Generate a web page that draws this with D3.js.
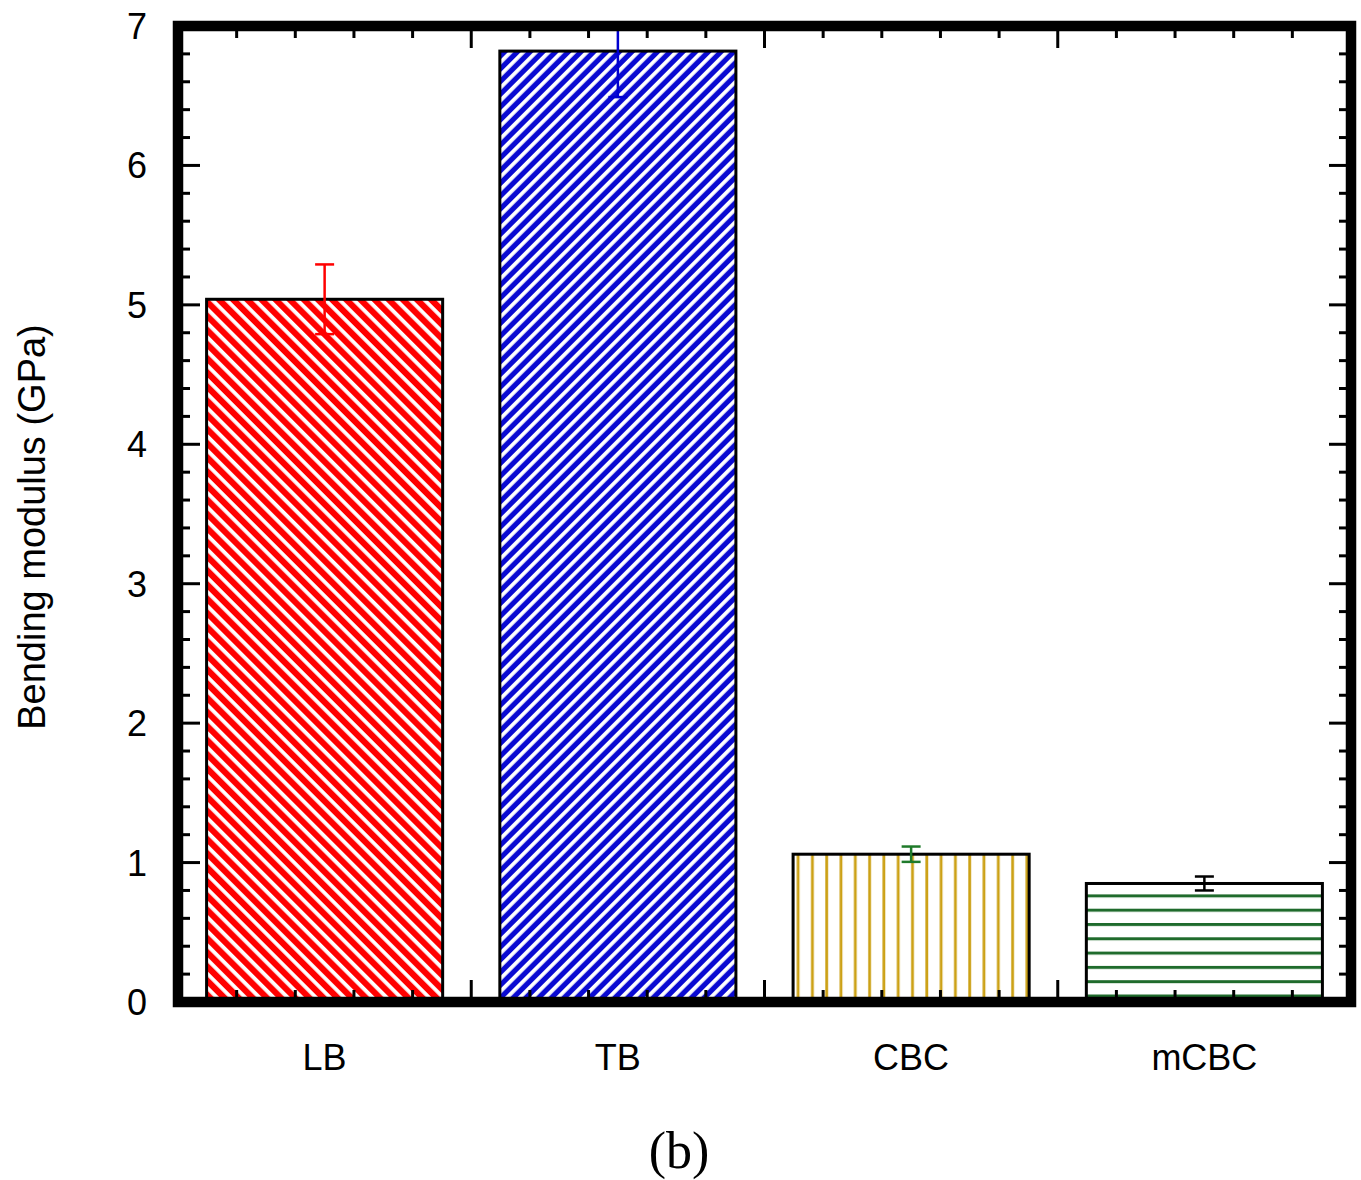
<!DOCTYPE html>
<html>
<head>
    <meta charset="utf-8" />
    <title>Bending modulus</title>
    <style>
    body { margin: 0; background: #fff; }
    svg { display: block; }
    text { font-family: "Liberation Sans", Arial, sans-serif; fill: #000; }
    </style>
</head>
<body>
    <svg id="chart" width="1361" height="1180"></svg>

    <script src="https://cdn.jsdelivr.net/npm/d3@7"></script>
    <script>
        // data
        var categories = ["LB", "TB", "CBC", "mCBC"];
        var values = [5.04, 6.82, 1.06, 0.85];
        var errors = [0.25, 0.33, 0.055, 0.05];
        var errColors = ["#ff0000", "#0000d0", "#1f7a2a", "#000000"];
        var yTicks = [0, 1, 2, 3, 4, 5, 6, 7];

        var svg = d3.select("#chart");
        // plot frame (centre of the thick border)
        var plotLeft = 178, plotRight = 1351, plotTop = 26, plotBottom = 1002;

        var x = d3.scaleBand()
            .domain(categories)
            .range([plotLeft, plotRight])
            .paddingInner(0.195)
            .paddingOuter(0.0975);

        var y = d3.scaleLinear().domain([0, 7]).range([plotBottom, plotTop]);

        // fill patterns
        var defs = svg.append("defs");

        // red with white "\" stripes
        var pLB = defs.append("pattern")
            .attr("id", "pLB")
            .attr("patternUnits", "userSpaceOnUse")
            .attr("width", 10).attr("height", 10)
            .attr("patternTransform", "rotate(45)");
        pLB.append("rect").attr("width", 10).attr("height", 10).attr("fill", "#ff0000");
        pLB.append("rect").attr("y", 0).attr("width", 10).attr("height", 3.8).attr("fill", "#fff");

        // blue with white "/" stripes
        var pTB = defs.append("pattern")
            .attr("id", "pTB")
            .attr("patternUnits", "userSpaceOnUse")
            .attr("width", 9).attr("height", 9)
            .attr("patternTransform", "rotate(-45)");
        pTB.append("rect").attr("width", 9).attr("height", 9).attr("fill", "#0a0ad2");
        pTB.append("rect").attr("y", 0).attr("width", 9).attr("height", 3.8).attr("fill", "#fff");

        var pCBC = defs.append("pattern")
            .attr("id", "pCBC")
            .attr("patternUnits", "userSpaceOnUse")
            .attr("x", 805).attr("y", 0)
            .attr("width", 14.3).attr("height", 20);
        pCBC.append("rect").attr("width", 14.3).attr("height", 20).attr("fill", "#fff");
        pCBC.append("rect").attr("x", 6).attr("width", 2.8).attr("height", 20).attr("fill", "#cca116");

        var pM = defs.append("pattern")
            .attr("id", "pM")
            .attr("patternUnits", "userSpaceOnUse")
            .attr("x", 0).attr("y", plotBottom - 6 - 1.5)
            .attr("width", 20).attr("height", 14.3);
        pM.append("rect").attr("width", 20).attr("height", 14.3).attr("fill", "#fff");
        pM.append("rect").attr("y", 0).attr("width", 20).attr("height", 3).attr("fill", "#1f6b2c");

        var fills = ["url(#pLB)", "url(#pTB)", "url(#pCBC)", "url(#pM)"];

        defs.append("clipPath").attr("id", "plotClip")
            .append("rect")
            .attr("x", plotLeft).attr("y", plotTop)
            .attr("width", plotRight - plotLeft).attr("height", plotBottom - plotTop);

        var plot = svg.append("g").attr("clip-path", "url(#plotClip)");

        // bars
        plot.selectAll("rect.bar")
            .data(categories)
            .enter().append("rect")
            .attr("class", "bar")
            .attr("x", function(d) { return x(d); })
            .attr("y", function(d, i) { return y(values[i]); })
            .attr("width", x.bandwidth())
            .attr("height", function(d, i) { return y(0) - y(values[i]); })
            .attr("fill", function(d, i) { return fills[i]; })
            .attr("stroke", "#000")
            .attr("stroke-width", 3);

        // error bars
        var capW = 19;
        var eb = plot.selectAll("g.err")
            .data(categories)
            .enter().append("g")
            .attr("class", "err")
            .attr("stroke", function(d, i) { return errColors[i]; })
            .attr("stroke-width", 2.5);

        eb.append("line")
            .attr("x1", function(d) { return x(d) + x.bandwidth() / 2; })
            .attr("x2", function(d) { return x(d) + x.bandwidth() / 2; })
            .attr("y1", function(d, i) { return y(values[i] + errors[i]); })
            .attr("y2", function(d, i) { return y(values[i] - errors[i]); });
        eb.append("line")
            .attr("x1", function(d) { return x(d) + x.bandwidth() / 2 - capW / 2; })
            .attr("x2", function(d) { return x(d) + x.bandwidth() / 2 + capW / 2; })
            .attr("y1", function(d, i) { return y(values[i] + errors[i]); })
            .attr("y2", function(d, i) { return y(values[i] + errors[i]); });
        eb.append("line")
            .attr("x1", function(d) { return x(d) + x.bandwidth() / 2 - capW / 2; })
            .attr("x2", function(d) { return x(d) + x.bandwidth() / 2 + capW / 2; })
            .attr("y1", function(d, i) { return y(values[i] - errors[i]); })
            .attr("y2", function(d, i) { return y(values[i] - errors[i]); });

        // ticks on all four sides, pointing inward
        var ticks = svg.append("g").attr("stroke", "#000").attr("stroke-width", 3);
        var major = 22, minor = 12;

        // y ticks (major every 1, minor every 0.2)
        d3.range(0, 7.001, 0.2).forEach(function(v) {
            var isMajor = Math.abs(v - Math.round(v)) < 1e-6;
            var len = isMajor ? major : minor;
            ticks.append("line").attr("x1", plotLeft).attr("x2", plotLeft + len)
                .attr("y1", y(v)).attr("y2", y(v));
            ticks.append("line").attr("x1", plotRight).attr("x2", plotRight - len)
                .attr("y1", y(v)).attr("y2", y(v));
        });

        // x ticks: major at band boundaries, 4 minor in between
        var step = x.step();
        d3.range(0, categories.length * 5 + 1).forEach(function(k) {
            var px = plotLeft + k * step / 5;
            var len = (k % 5 === 0) ? major : minor;
            ticks.append("line").attr("x1", px).attr("x2", px)
                .attr("y1", plotBottom).attr("y2", plotBottom - len);
            ticks.append("line").attr("x1", px).attr("x2", px)
                .attr("y1", plotTop).attr("y2", plotTop + len);
        });

        // thick frame
        svg.append("rect")
            .attr("x", plotLeft).attr("y", plotTop)
            .attr("width", plotRight - plotLeft).attr("height", plotBottom - plotTop)
            .attr("fill", "none")
            .attr("stroke", "#000")
            .attr("stroke-width", 10.5);

        // y tick labels
        svg.selectAll("text.ytick")
            .data(yTicks)
            .enter().append("text")
            .attr("class", "ytick")
            .attr("x", 147)
            .attr("y", function(d) { return y(d); })
            .attr("dy", "0.36em")
            .attr("text-anchor", "end")
            .style("font-size", "36px")
            .text(function(d) { return d; });

        // category labels
        svg.selectAll("text.xtick")
            .data(categories)
            .enter().append("text")
            .attr("class", "xtick")
            .attr("x", function(d) { return x(d) + x.bandwidth() / 2; })
            .attr("y", 1070)
            .attr("text-anchor", "middle")
            .style("font-size", "36px")
            .text(function(d) { return d; });

        // axis title
        svg.append("text")
            .attr("transform", "translate(45,527) rotate(-90)")
            .attr("text-anchor", "middle")
            .style("font-size", "38px")
            .text("Bending modulus (GPa)");

        // panel label
        svg.append("text")
            .attr("x", 679)
            .attr("y", 1168)
            .attr("text-anchor", "middle")
            .style("font-family", "'Liberation Serif', 'Times New Roman', serif")
            .style("font-size", "52px")
            .text("(b)");
    </script>
</body>
</html>
